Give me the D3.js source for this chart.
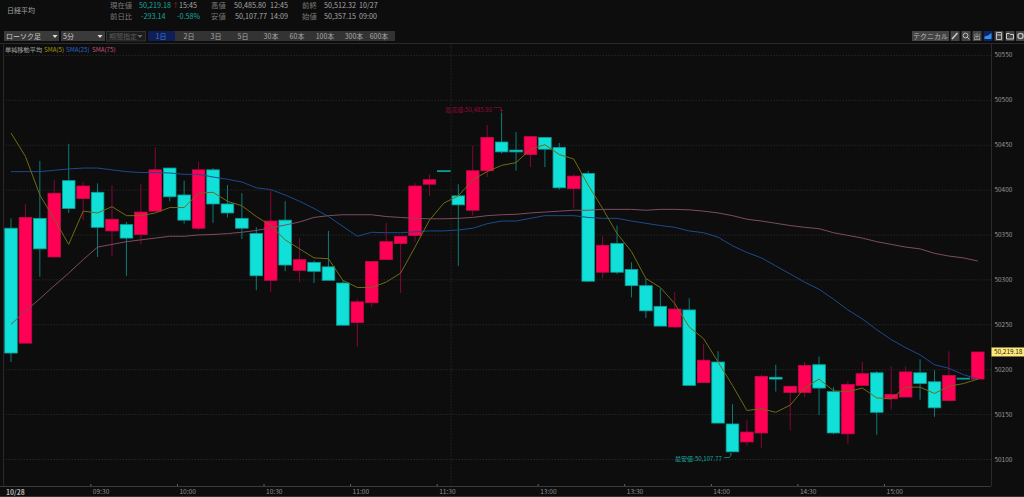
<!DOCTYPE html>
<html lang="ja"><head><meta charset="utf-8">
<script src="https://cdn.jsdelivr.net/npm/d3@7"></script>
<style>
html,body{margin:0;padding:0;background:#0d0d0d;overflow:hidden}
svg{display:block}
text{font-family:"Noto Sans CJK JP","Noto Sans",sans-serif}
</style></head><body><svg id="c" width="1024" height="497"></svg>
<script>
const opens=[50357,50229,50368,50325,50410,50390,50397,50354,50361,50350,50376,50424,50394,50357,50422,50384,50368,50351,50299,50366,50310,50319,50314,50296,50252,50274,50322,50340,50349,50406,50421,50393,50377,50421,50453,50444,50439,50458,50447,50401,50418,50308,50340,50311,50293,50270,50247,50266,50185,50208,50139,50119,50129,50191,50174,50174,50205,50175,50128,50182,50196,50167,50169,50196,50186,50165,50190,50189];
const closes=[50218,50369,50334,50396,50379,50404,50358,50367,50346,50375,50422,50392,50366,50422,50384,50374,50357,50304,50365,50316,50322,50309,50299,50249,50275,50320,50342,50348,50404,50411,50420,50383,50421,50458,50442,50442,50459,50445,50402,50415,50298,50338,50308,50293,50265,50248,50267,50182,50210,50140,50108,50130,50192,50189,50181,50204,50179,50129,50183,50195,50152,50172,50197,50184,50157,50193,50189,50219.18];
const highs=[50368,50384,50432,50411,50451,50408,50407,50405,50364,50406,50447,50424,50410,50431,50424,50405,50396,50358,50399,50387,50346,50321,50354,50299,50278,50320,50363,50348,50407,50417,50421,50406,50449,50472,50485.8,50464,50459,50458,50452,50417,50421,50348,50360,50319,50301,50290,50286,50279,50228,50220,50161,50143,50194,50205,50181,50208,50214,50180,50187,50208,50198,50203,50203,50211,50199,50220,50190,50219.18];
const lows=[50208,50229,50303,50325,50374,50366,50325,50326,50304,50339,50376,50387,50362,50355,50363,50369,50345,50288,50286,50309,50297,50296,50299,50249,50225,50269,50322,50285,50342,50393,50420,50315,50371,50414,50440,50421,50425,50425,50400,50379,50297,50301,50306,50280,50257,50248,50246,50182,50185,50140,50107.77,50115,50112,50175,50132,50169,50149,50127.5,50117,50182,50127,50155,50169,50166,50147,50165,50189,50189];
const sma5=[50463,50437,50394,50367,50339,50376,50374,50381,50371,50371,50374,50380,50380,50396,50397,50387,50382,50370,50360,50344,50334,50324,50323,50299,50291,50291,50297,50307,50336,50366,50385,50393,50411,50420,50427,50430,50445,50450,50439,50434,50405,50379,50351,50331,50301,50291,50273,50247,50234,50208,50182,50154,50156,50152,50160,50179,50189,50176,50175,50179,50168,50167,50180,50180,50173,50181,50184,50189];
const sma25=[50420,50420,50420,50421.5,50423,50424,50424,50422,50420,50419,50419,50418.5,50417,50417,50414,50411.5,50408.5,50402,50400,50394,50387,50379,50370,50359,50348,50352.5,50352,50352,50353,50354,50354,50355,50357,50362,50365,50365,50368,50371,50371,50371,50369,50368,50368,50365,50362.5,50360,50358,50354,50352,50347,50337.5,50330,50324,50315,50306,50297,50289,50278,50266,50256,50244,50233,50224,50216,50205,50201,50194,50189];
const sma75=[50250,50264.5,50278.5,50293,50307,50322,50336,50339,50342,50344,50346,50348,50348,50349.5,50350,50351,50352.5,50354.5,50357.5,50360.5,50364,50369,50371,50372,50372,50372,50370,50369,50368,50367.5,50367.5,50368,50369,50371,50372,50372.5,50374,50375,50376,50377,50377,50378,50378,50378,50377,50378,50378,50377.5,50376,50374,50371,50367,50365,50362.5,50360,50358,50356.5,50352,50349,50346,50342,50339,50336,50334,50329,50326,50324,50320.5];
const priceTicks=[50100,50150,50200,50250,50300,50350,50400,50450,50500,50550];
const timeTickIndex=[6,12,18,24,30,37,43,49,55,61];
const timeTickLabels=["09:30","10:00","10:30","11:00","11:30","13:00","13:30","14:00","14:30","15:00"];
const dateLabel="10/28";
const lastPrice=50219.18, highPrice=50485.80, lowPrice=50107.77, highIndex=34, lowIndex=50;
const highText="最高値:50,485.80", lowText="最安値:50,107.77";
const quoteRows=[
 [["現在値",110,"l"],["50,219.18",139,"c"],["15:45",179,"v"],["高値",211,"l"],["50,485.80",234,"v"],["12:45",270,"v"],["前終",302,"l"],["50,512.32",324,"v"],["10/27",359,"v"]],
 [["前日比",110,"l"],["-293.14",141,"c"],["-0.58%",177,"c"],["安値",211,"l"],["50,107.77",235,"v"],["14:09",270,"v"],["始値",302,"l"],["50,357.15",324,"v"],["09:00",359,"v"]]];
const rangeLabels=["1日","2日","3日","5日","30本","60本","100本","300本","600本"];
const rangeCenters=[161,189,216,243,271,297,325,354,379];

const C={bg:"#0d0d0d",up:"#ff0055",down:"#10e0d8",upW:"#85073a",downW:"#0c7c78",upS:"#c40a48",downS:"#0c9c98",
 y:"#706a12",b:"#1c4a8e",p:"#7c4c64",grid:"#262626",label:"#7a7a7a",val:"#a8a8a8",teal:"#17a99e"};
const svg=d3.select("#c");
svg.append("rect").attr("width",1024).attr("height",497).attr("fill",C.bg);
const x=d3.scaleLinear().domain([-0.5,67.5]).range([3.785,985]);
const y=d3.scaleLinear().domain([50100,50550]).range([459,54.9]);
const bw=12.6;

// header
svg.append("text").attr("x",7).attr("y",12.5).attr("font-size",7).attr("fill","#a0a0a0").text("日経平均");
quoteRows.forEach((r,i)=>r.forEach(d=>{
 svg.append("text").attr("x",d[1]).attr("y",i?18.5:8).attr("font-size",d[2]=="l"?7.4:7.2)
  .attr("fill",d[2]=="l"?C.label:d[2]=="c"?C.teal:C.val).text(d[0]);
}));
svg.append("text").attr("x",172).attr("y",8).attr("font-size",7).attr("fill","#b0103c").text("↑");

// toolbar
const tb=svg.append("g");
tb.append("rect").attr("x",4).attr("y",31).attr("width",55).attr("height",10).attr("fill","#3a3a3a");
tb.append("rect").attr("x",61).attr("y",31).attr("width",44).attr("height",10).attr("fill","#3a3a3a");
tb.append("rect").attr("x",106.5).attr("y",31.5).attr("width",39).attr("height",9.5).attr("fill","#1c1c1c").attr("stroke","#333");
tb.append("rect").attr("x",148).attr("y",31).attr("width",247).attr("height",10).attr("fill","#333");
tb.append("rect").attr("x",148).attr("y",31).attr("width",27).attr("height",10).attr("fill","#0f1f55");
[["ローソク足",6,"#c8c8c8"],["5分",63,"#c8c8c8"],["期間指定",109,"#5c5c5c"]].forEach(d=>
 tb.append("text").attr("x",d[1]).attr("y",39).attr("font-size",7).attr("fill",d[2]).text(d[0]));
[[55,"#ddd"],[100,"#ddd"],[140,"#666"]].forEach(d=>
 tb.append("path").attr("d",`M${d[0]-2.5},35 h5 l-2.5,3 z`).attr("fill",d[1]));
rangeLabels.forEach((t,i)=>tb.append("text").attr("x",rangeCenters[i]).attr("y",39).attr("text-anchor","middle")
 .attr("font-size",7).attr("fill",i?"#a8a8a8":"#3f78d8").text(t));
tb.append("rect").attr("x",912).attr("y",31).attr("width",37).attr("height",10).attr("fill","#444");
tb.append("text").attr("x",930.5).attr("y",39).attr("text-anchor","middle").attr("font-size",7).attr("fill","#b8b8b8").text("テクニカル");
[955,966,977,988,999,1010,1020.5].forEach((cx,i)=>{
 tb.append("rect").attr("x",cx-4.5).attr("y",31).attr("width",9).attr("height",10).attr("fill",i==3?"#0d2460":"#444");
 const g=tb.append("g").attr("transform",`translate(${cx},36)`);
 if(i==0) g.append("path").attr("d","M-3,3 L2.5,-3").attr("stroke","#ccc").attr("stroke-width",1.5);
 if(i==1){g.append("circle").attr("r",2.4).attr("cx",-.5).attr("cy",-.5).attr("fill","none").attr("stroke","#bbb");g.append("path").attr("d","M1.2,1.2 L3.4,3.4").attr("stroke","#bbb");}
 if(i==2) g.append("text").attr("y",2.8).attr("text-anchor","middle").attr("font-size",7).attr("fill","#bbb").text("出");
 if(i==3) g.append("path").attr("d","M-3.5,3 V0.5 L0,-.5 L3.5,-3 V3 Z").attr("fill","#2f8ff0");
 if(i==4) g.append("path").attr("d","M-2.5,-3.5 h5 v7 h-5 z M-2.5,-1 h5").attr("fill","none").attr("stroke","#bbb");
 if(i==5) g.append("path").attr("d","M-3.5,-2.5 h3 l1,1 h3 v4.5 h-7 z").attr("fill","none").attr("stroke","#ccc");
 if(i==6) g.append("circle").attr("r",2.6).attr("fill","none").attr("stroke","#bbb").attr("stroke-width",1.4);
});

// frame
const frame=svg.append("g").attr("fill","none").attr("stroke","#2a2a2a");
frame.append("path").attr("d","M3.5,44 V486 M991.5,44 V486");
frame.append("path").attr("d","M0,43.5 H1024");

// grid
svg.append("g").attr("transform","translate(991,0)")
 .call(d3.axisLeft(y).tickValues(priceTicks).tickSize(987).tickFormat(""))
 .call(g=>{g.select(".domain").remove();g.selectAll("line").attr("stroke",C.grid).attr("stroke-dasharray","1.5 1.5");});
svg.append("line").attr("x1",x(30.5)).attr("x2",x(30.5)).attr("y1",44).attr("y2",486)
 .attr("stroke",C.grid).attr("stroke-dasharray","1.5 1.5");

// candles
const idx=d3.range(opens.length);
svg.append("g").selectAll("line").data(idx).join("line")
 .attr("x1",i=>x(i)).attr("x2",i=>x(i)).attr("y1",i=>y(highs[i])).attr("y2",i=>y(lows[i]))
 .attr("stroke",i=>closes[i]>=opens[i]?C.upW:C.downW).attr("stroke-width",1);
svg.append("g").selectAll("rect").data(idx).join("rect")
 .attr("x",i=>x(i)-bw/2)
 .attr("y",i=>y(Math.max(opens[i],closes[i])))
 .attr("width",bw)
 .attr("height",i=>Math.abs(y(opens[i])-y(closes[i])))
 .attr("fill",i=>closes[i]>=opens[i]?C.up:C.down)
 .attr("stroke",i=>closes[i]>=opens[i]?C.upS:C.downS).attr("stroke-width",.8);

// SMA lines
const line=d3.line().x((d,i)=>x(i)).y(d=>y(d));
[[sma75,C.p],[sma25,C.b],[sma5,C.y]].forEach(([s,c])=>
 svg.append("path").attr("d",line(s)).attr("fill","none").attr("stroke",c).attr("stroke-width",1));

// legend
[["単純移動平均",5,"#a0a0a0"],["SMA(5)",44,"#a29a10"],["SMA(25)",66,"#2a66cc"],["SMA(75)",92,"#cc4f80"]].forEach(d=>
 svg.append("text").attr("x",d[1]).attr("y",52).attr("font-size",6.2).attr("fill",d[2]).text(d[0]));

// y axis labels
svg.append("g").attr("transform","translate(991,0)")
 .call(d3.axisRight(y).tickValues(priceTicks).tickSize(0).tickPadding(3.5).tickFormat(d3.format("d")))
 .call(g=>{g.select(".domain").remove();g.selectAll("text").attr("fill","#9a9a9a").attr("font-size",6.4).attr("font-family",'"Noto Sans CJK JP"');});

// x axis
const xAxisY=486;
svg.append("g").attr("transform",`translate(0,${xAxisY})`)
 .call(d3.axisBottom(x).tickValues(timeTickIndex.map(i=>i-0.5)).tickSize(-2)
   .tickFormat((d,i)=>timeTickLabels[i]))
 .call(g=>{g.select(".domain").attr("stroke","#3a3a3a").attr("d","M0,0.5H991");
   g.selectAll("line").attr("stroke","#666");
   g.selectAll("text").attr("fill","#8f8f8f").attr("font-size",6.6).attr("text-anchor","start").attr("x",2).attr("y",3).attr("dy","0.71em").attr("font-family",'"Noto Sans CJK JP"');});
svg.append("text").attr("x",6).attr("y",xAxisY+8.6).attr("font-size",6.8).attr("font-weight",700).attr("fill","#b8b8b8").text(dateLabel);
svg.append("path").attr("d","M0,496.5H1024").attr("stroke","#333");

// last price tag
const ly=y(lastPrice);
svg.append("rect").attr("x",991.5).attr("y",ly-4.5).attr("width",32.5).attr("height",9).attr("fill","#ffe97a");
svg.append("text").attr("x",994).attr("y",ly+2.4).attr("font-size",6.4).attr("fill","#222").text("50,219.18");

// high / low annotations
const hx=x(highIndex), hy=y(highPrice);
svg.append("text").attr("x",hx-9.5).attr("y",hy-1).attr("text-anchor","end").attr("font-size",6.1).attr("fill","#98063f").text(highText);
svg.append("path").attr("d",`M${hx-8},${hy-5} H${hx-0.5} V${hy-2}`).attr("fill","none").attr("stroke","#98063f").attr("stroke-width",.7);
svg.append("circle").attr("cx",hx).attr("cy",hy-2).attr("r",.9).attr("fill","#c00a4c");
const lx=x(lowIndex), ly2=y(lowPrice);
svg.append("text").attr("x",lx-10.5).attr("y",ly2+9).attr("text-anchor","end").attr("font-size",6.1).attr("fill",C.teal).text(lowText);
svg.append("path").attr("d",`M${lx-8.5},${ly2+5.5} H${lx-3} L${lx-1.5},${ly2+3}`).attr("fill","none").attr("stroke",C.teal).attr("stroke-width",.7);
svg.append("circle").attr("cx",lx-1.5).attr("cy",ly2+2).attr("r",.8).attr("fill",C.teal);
</script></body></html>
